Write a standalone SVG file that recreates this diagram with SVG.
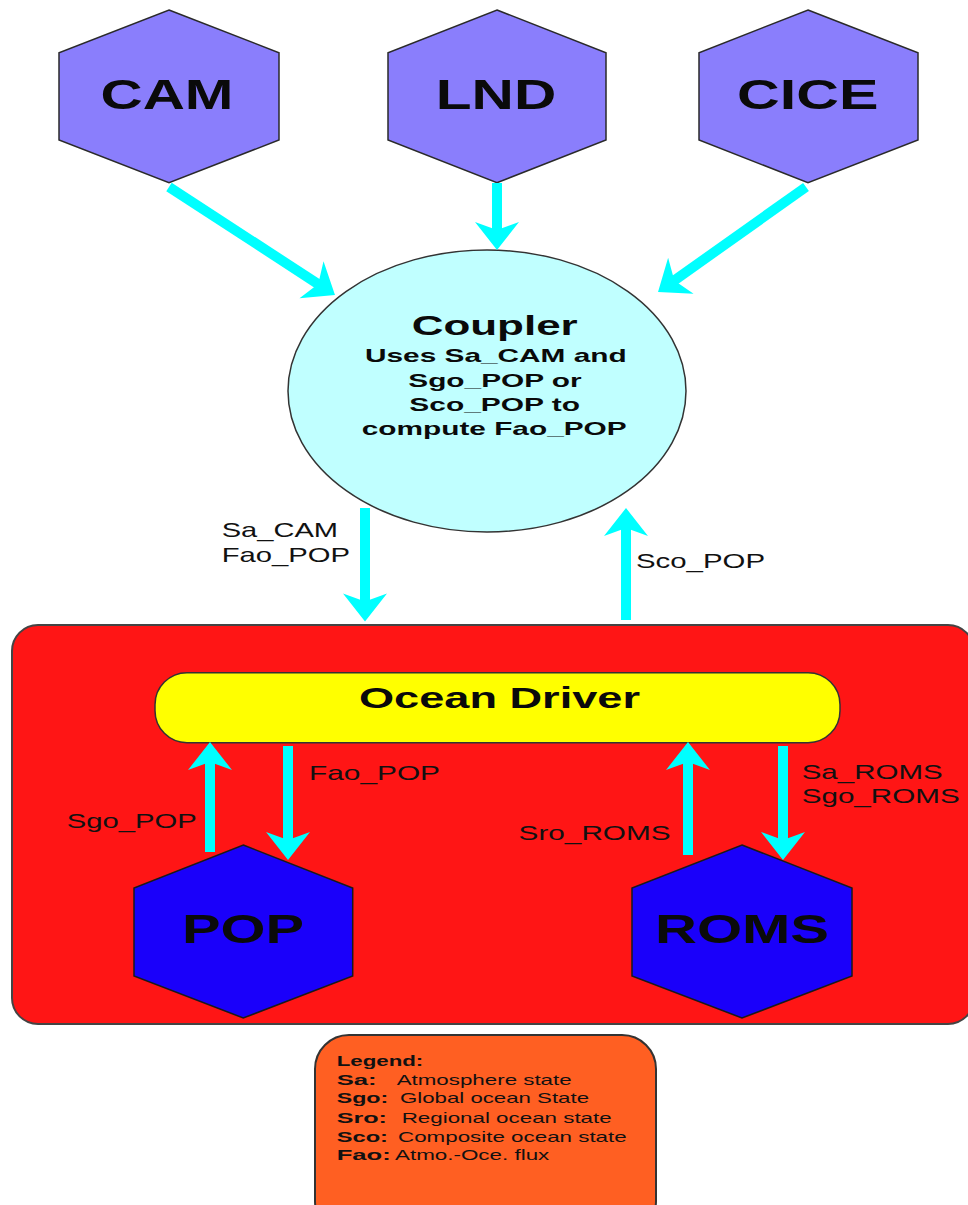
<svg xmlns="http://www.w3.org/2000/svg" width="968" height="1205" viewBox="0 0 968 1205">
<style>
.hexTop{fill:#8A7EFC;stroke:#2a2a2a;stroke-width:1.5}
.hexBot{fill:#1A00FA;stroke:#1a1a1a;stroke-width:1.5}
.big{font-family:"Liberation Sans",Arial,sans-serif;font-weight:bold;fill:#0a0a0a}
.lbl{font-family:"Liberation Sans",Arial,sans-serif;fill:#111;font-size:21px}
.leg{font-family:"Liberation Sans",Arial,sans-serif;fill:#111;font-size:14.5px}
.legb{font-family:"Liberation Sans",Arial,sans-serif;fill:#111;font-size:14.5px;font-weight:bold}
.arr{stroke:#00FFFF;stroke-width:10;fill:none;marker-end:url(#ah)}
</style>
<defs>
<marker id="ah" markerUnits="userSpaceOnUse" viewBox="-32 -26 34 52" markerWidth="34" markerHeight="52" refX="-18" refY="0" orient="auto">
<path d="M0,0 L-28,-22 L-20,0 L-28,22 Z" fill="#00FFFF"/>
</marker>
</defs>
<rect width="968" height="1205" fill="#ffffff"/>

<g id="ocean-system">
<rect x="12" y="625" width="962" height="399" rx="26" ry="26" fill="#FF1515" stroke="#444" stroke-width="2"/>
</g>

<g id="legend">
<rect x="315" y="1035" width="341" height="200" rx="34" ry="34" fill="#FF5F22" stroke="#333" stroke-width="2"/>
<text class="legb" x="336.7" y="1066" textLength="86.6" lengthAdjust="spacingAndGlyphs">Legend:</text>
<text class="legb" x="336.7" y="1084.5" textLength="40" lengthAdjust="spacingAndGlyphs">Sa:</text>
<text class="leg" x="396.7" y="1084.5" textLength="175" lengthAdjust="spacingAndGlyphs">Atmosphere state</text>
<text class="legb" x="336.7" y="1103.3" textLength="51.6" lengthAdjust="spacingAndGlyphs">Sgo:</text>
<text class="leg" x="400" y="1103.3" textLength="189" lengthAdjust="spacingAndGlyphs">Global ocean State</text>
<text class="legb" x="336.7" y="1122.7" textLength="50.3" lengthAdjust="spacingAndGlyphs">Sro:</text>
<text class="leg" x="401.7" y="1122.7" textLength="210" lengthAdjust="spacingAndGlyphs">Regional ocean state</text>
<text class="legb" x="336.7" y="1141.7" textLength="51.3" lengthAdjust="spacingAndGlyphs">Sco:</text>
<text class="leg" x="398" y="1141.7" textLength="228.7" lengthAdjust="spacingAndGlyphs">Composite ocean state</text>
<text class="legb" x="336.7" y="1160.3" textLength="54" lengthAdjust="spacingAndGlyphs">Fao:</text>
<text class="leg" x="395" y="1160.3" textLength="154.3" lengthAdjust="spacingAndGlyphs">Atmo.-Oce. flux</text>
</g>

<g id="CAM">
<polygon class="hexTop" points="169,10 279,52.7 279,140 169,182.7 59,140 59,52.7"/>
<text class="big" x="100.5" y="109" font-size="42" textLength="133" lengthAdjust="spacingAndGlyphs">CAM</text>
</g>
<g id="LND">
<polygon class="hexTop" points="497,10 606,52.7 606,140 497,182.7 388,140 388,52.7"/>
<text class="big" x="435.8" y="109" font-size="42" textLength="120.5" lengthAdjust="spacingAndGlyphs">LND</text>
</g>
<g id="CICE">
<polygon class="hexTop" points="808,10 918,52.7 918,140 808,182.7 699,140 699,52.7"/>
<text class="big" x="737" y="109" font-size="42" textLength="141.4" lengthAdjust="spacingAndGlyphs">CICE</text>
</g>

<g id="Coupler">
<ellipse cx="487" cy="391" rx="199" ry="141" fill="#C0FFFF" stroke="#333" stroke-width="1.5"/>
<text class="big" x="411.7" y="335" font-size="28" textLength="166" lengthAdjust="spacingAndGlyphs">Coupler</text>
<text class="big" x="365" y="362" font-size="19" textLength="261.7" lengthAdjust="spacingAndGlyphs">Uses Sa_CAM and</text>
<text class="big" x="408.3" y="387" font-size="19" textLength="173.3" lengthAdjust="spacingAndGlyphs">Sgo_POP or</text>
<text class="big" x="409.3" y="411" font-size="19" textLength="170.7" lengthAdjust="spacingAndGlyphs">Sco_POP to</text>
<text class="big" x="361.7" y="435" font-size="19" textLength="265" lengthAdjust="spacingAndGlyphs">compute Fao_POP</text>
</g>

<g id="OceanDriver">
<rect x="155" y="672.7" width="685" height="70" rx="32" ry="32" fill="#FFFF00" stroke="#333" stroke-width="1.5"/>
<text class="big" x="359" y="708" font-size="30" textLength="281" lengthAdjust="spacingAndGlyphs">Ocean Driver</text>
</g>

<g id="POP">
<polygon class="hexBot" points="243.3,845 352.7,888 352.7,976 243.3,1018 134,976 134,888"/>
<text class="big" x="182" y="943" font-size="40" textLength="122" lengthAdjust="spacingAndGlyphs">POP</text>
</g>
<g id="ROMS">
<polygon class="hexBot" points="742,845 852,888 852,976 742,1018 632,976 632,888"/>
<text class="big" x="655" y="943" font-size="40" textLength="174" lengthAdjust="spacingAndGlyphs">ROMS</text>
</g>

<g id="connectors">
<line class="arr" x1="169" y1="187" x2="319.9" y2="285.2"/>
<line class="arr" x1="497" y1="183" x2="497" y2="232"/>
<line class="arr" x1="806" y1="187" x2="672.7" y2="281.6"/>
<line class="arr" x1="365" y1="508" x2="365" y2="603.5"/>
<line class="arr" x1="626" y1="620" x2="626" y2="526"/>
<line class="arr" x1="210" y1="852" x2="210" y2="760"/>
<line class="arr" x1="288" y1="746" x2="288" y2="842"/>
<line class="arr" x1="688" y1="855" x2="688" y2="760"/>
<line class="arr" x1="783" y1="746" x2="783" y2="842"/>
<text class="lbl" x="221.7" y="536.7" textLength="116.3" lengthAdjust="spacingAndGlyphs">Sa_CAM</text>
<text class="lbl" x="221.7" y="561.7" textLength="128.3" lengthAdjust="spacingAndGlyphs">Fao_POP</text>
<text class="lbl" x="636" y="568" textLength="129" lengthAdjust="spacingAndGlyphs">Sco_POP</text>
<text class="lbl" x="66.7" y="828" font-size="20" textLength="130" lengthAdjust="spacingAndGlyphs">Sgo_POP</text>
<text class="lbl" x="309" y="780" font-size="20" textLength="131" lengthAdjust="spacingAndGlyphs">Fao_POP</text>
<text class="lbl" x="518.6" y="840" font-size="20" textLength="152" lengthAdjust="spacingAndGlyphs">Sro_ROMS</text>
<text class="lbl" x="801.7" y="779" font-size="20" textLength="141" lengthAdjust="spacingAndGlyphs">Sa_ROMS</text>
<text class="lbl" x="801.7" y="803" font-size="20" textLength="158" lengthAdjust="spacingAndGlyphs">Sgo_ROMS</text>
</g>
</svg>
